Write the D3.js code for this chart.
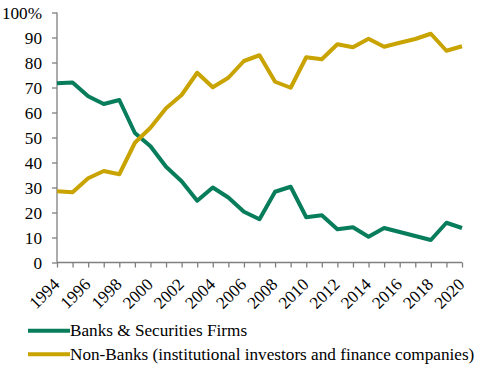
<!DOCTYPE html>
<html><head><meta charset="utf-8">
<script src="https://cdn.jsdelivr.net/npm/d3@7"></script>
</head><body style="margin:0;background:#fff"><svg id="c" width="495" height="372" style="display:block"></svg>
<script>
const years = d3.range(1994, 2021);
const banks = [71.7,72,66.5,63.4,65,51.8,46.5,38.3,32.5,24.7,30,26,20.3,17.3,28.3,30.3,18.1,18.9,13.3,14.1,10.3,13.8,12.2,10.6,9,15.9,13.8];
const nonBanks = [28.5,28.1,33.7,36.6,35.3,47.9,53.9,61.7,67,75.9,70.1,73.9,80.6,82.9,72.3,69.9,82.1,81.3,87.3,86.1,89.5,86.3,87.9,89.4,91.5,84.7,86.5];
const yTicks = [0,10,20,30,40,50,60,70,80,90,100];
const xLabels = d3.range(1994, 2021, 2);
const seriesNames = ["Banks & Securities Firms","Non-Banks (institutional investors and finance companies)"];
const colors = ["#077d5c","#c9a300"];
const FONT = "Liberation Serif";
const FS = 17.2;

const svg = d3.select("#c").attr("font-family",FONT);
const x = d3.scaleLinear().domain([1994,2020]).range([57,462]);
const y = d3.scaleLinear().domain([0,100]).range([262.5,12.5]);

const axCol = "#7f7f7f";
const ya = svg.append("g").attr("transform","translate(57,0)")
  .call(d3.axisLeft(y).tickValues(yTicks).tickSize(5).tickPadding(10).tickFormat(d=>d===100?"100%":d));
const xa = svg.append("g").attr("transform","translate(0,262.5)")
  .call(d3.axisBottom(x).tickValues(years).tickSize(5).tickFormat(d=>xLabels.includes(d)?d:""));
[ya,xa].forEach(g=>{
  g.attr("font-family",FONT).attr("font-size",FS);
  g.select(".domain").remove();
  g.selectAll("line").attr("stroke",axCol).attr("stroke-width",1.3);
  g.selectAll("text").attr("fill","#000").attr("font-family",FONT).attr("font-size",FS);
});
svg.append("line").attr("x1",57).attr("x2",57).attr("y1",y(100)).attr("y2",y(0)).attr("stroke",axCol).attr("stroke-width",1.3);
svg.append("line").attr("x1",x(1994)).attr("x2",x(2020)).attr("y1",y(0)).attr("y2",y(0)).attr("stroke",axCol).attr("stroke-width",1.3);
xa.selectAll("text").attr("text-anchor","end").attr("y",0).attr("dy",0).attr("transform","translate(3,23) rotate(-45)");

const line = d3.line().x((d,i)=>x(years[i])).y(d=>y(d));
[banks,nonBanks].forEach((s,i)=>{
  svg.append("path").datum(s).attr("d",line).attr("fill","none")
    .attr("stroke",colors[i]).attr("stroke-width",4).attr("stroke-linejoin","round");
});

seriesNames.forEach((n,i)=>{
  const ly = 330.7 + i*23.5;
  svg.append("line").attr("x1",28).attr("x2",70).attr("y1",ly).attr("y2",ly).attr("stroke",colors[i]).attr("stroke-width",4);
  svg.append("text").attr("x",70).attr("y",ly+5.5).attr("fill","#000")
    .attr("font-family",FONT).attr("font-size",FS).text(n);
});
</script></body></html>
